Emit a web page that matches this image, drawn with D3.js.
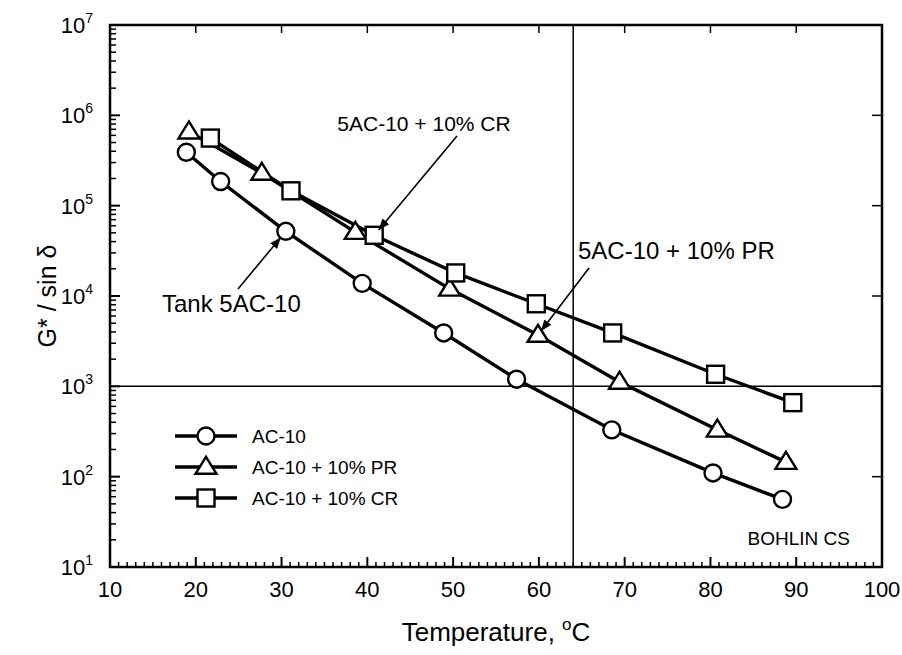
<!DOCTYPE html>
<html>
<head>
<meta charset="utf-8">
<script src="https://cdn.jsdelivr.net/npm/d3@7"></script>
<style>
  html, body { margin: 0; padding: 0; background: #fff; }
  svg { display: block; font-family: "Liberation Sans", Arial, sans-serif; }
</style>
</head>
<body>
<svg id="chart" width="902" height="655"></svg>
<script>
// ---------------- data ----------------
const seriesNames = ["AC-10", "AC-10 + 10% PR", "AC-10 + 10% CR"];
const tempAC = [18.9, 22.9, 30.5, 39.4, 48.9, 57.4, 68.5, 80.3, 88.4];
const valAC  = [3.9e5, 1.85e5, 5.2e4, 1.38e4, 3.9e3, 1.2e3, 330, 110, 56];
const tempPR = [19.2, 27.7, 38.6, 49.6, 59.9, 69.4, 80.8, 88.8];
const valPR  = [6.6e5, 2.3e5, 5.1e4, 1.2e4, 3.7e3, 1.12e3, 330, 145];
const tempCR = [21.7, 31.1, 40.8, 50.3, 59.7, 68.6, 80.6, 89.6];
const valCR  = [5.6e5, 1.46e5, 4.7e4, 1.8e4, 8.2e3, 3.9e3, 1.36e3, 660];
const xTicks = [10, 20, 30, 40, 50, 60, 70, 80, 90, 100];
const yExponents = [1, 2, 3, 4, 5, 6, 7];
const refTemperature = 64;
const refValue = 1000;
const annotationTexts = ["5AC-10 + 10% CR", "5AC-10 + 10% PR", "Tank 5AC-10"];
const instrumentText = "BOHLIN CS";

// ---------------- layout ----------------
const svg = d3.select("#chart");
const L = 110, R = 882, T = 25, B = 567;
const x = d3.scaleLinear().domain([10, 100]).range([L, R]);
const y = d3.scaleLog().domain([10, 1e7]).range([B, T]);

const series = [
  { name: seriesNames[0], sym: "circle",   pts: tempAC.map((t, i) => [t, valAC[i]]) },
  { name: seriesNames[1], sym: "triangle", pts: tempPR.map((t, i) => [t, valPR[i]]) },
  { name: seriesNames[2], sym: "square",   pts: tempCR.map((t, i) => [t, valCR[i]]) }
];

function drawMarker(g, sym, cx, cy) {
  if (sym === "circle") {
    g.append("circle").attr("cx", cx).attr("cy", cy).attr("r", 8.5)
      .attr("fill", "#fff").attr("stroke", "#000").attr("stroke-width", 2.4);
  } else if (sym === "square") {
    g.append("rect").attr("x", cx - 8.5).attr("y", cy - 8.5).attr("width", 17).attr("height", 17)
      .attr("fill", "#fff").attr("stroke", "#000").attr("stroke-width", 2.4);
  } else {
    const w = 21, h = 17;
    g.append("path")
      .attr("d", `M${cx},${cy - h * 0.6}L${cx + w / 2},${cy + h * 0.4}L${cx - w / 2},${cy + h * 0.4}Z`)
      .attr("fill", "#fff").attr("stroke", "#000").attr("stroke-width", 2.4)
      .attr("stroke-linejoin", "miter");
  }
}

// ---------------- reference lines ----------------
svg.append("line").attr("x1", L).attr("x2", R).attr("y1", y(refValue)).attr("y2", y(refValue))
  .attr("stroke", "#000").attr("stroke-width", 1.5);
svg.append("line").attr("x1", x(refTemperature)).attr("x2", x(refTemperature)).attr("y1", T).attr("y2", B)
  .attr("stroke", "#000").attr("stroke-width", 1.5);

// ---------------- axes ----------------
const axisG = svg.append("g");
const minorX = d3.range(10, 101, 1);
minorX.forEach(v => {
  const major = v % 10 === 0;
  axisG.append("line").attr("x1", x(v)).attr("x2", x(v))
    .attr("y1", B).attr("y2", B - (major ? 10 : 5))
    .attr("stroke", "#000").attr("stroke-width", major ? 2 : 1.5);
});
xTicks.forEach(v => {
  axisG.append("line").attr("x1", x(v)).attr("x2", x(v)).attr("y1", T).attr("y2", T + 8)
    .attr("stroke", "#000").attr("stroke-width", 1.5);
});
yExponents.forEach(e => {
  const v = Math.pow(10, e);
  axisG.append("line").attr("x1", L).attr("x2", L + 10).attr("y1", y(v)).attr("y2", y(v))
    .attr("stroke", "#000").attr("stroke-width", 2);
  axisG.append("line").attr("x1", R).attr("x2", R - 10).attr("y1", y(v)).attr("y2", y(v))
    .attr("stroke", "#000").attr("stroke-width", 1.5);
  if (e < 7) {
    for (let m = 2; m <= 9; m++) {
      const mv = m * v;
      axisG.append("line").attr("x1", L).attr("x2", L + 6).attr("y1", y(mv)).attr("y2", y(mv))
        .attr("stroke", "#000").attr("stroke-width", 1.5);
    }
  }
});
svg.append("rect").attr("x", L).attr("y", T).attr("width", R - L).attr("height", B - T)
  .attr("fill", "none").attr("stroke", "#000").attr("stroke-width", 2.5);

xTicks.forEach(v => {
  svg.append("text").attr("x", x(v)).attr("y", B + 30).attr("text-anchor", "middle")
    .attr("font-size", 22).attr("fill", "#000").text(v);
});
yExponents.forEach(e => {
  const t = svg.append("text").attr("x", 93).attr("y", y(Math.pow(10, e)) + 8)
    .attr("text-anchor", "end").attr("font-size", 22).attr("fill", "#000");
  t.append("tspan").text("10");
  t.append("tspan").attr("dy", -10).attr("font-size", 14).text(e);
});

const xt = svg.append("text").attr("x", (L + R) / 2).attr("y", 641).attr("text-anchor", "middle")
  .attr("font-size", 26).attr("fill", "#000");
xt.append("tspan").text("Temperature, ");
xt.append("tspan").attr("dy", -11).attr("font-size", 17).text("o");
xt.append("tspan").attr("dy", 11).text("C");

svg.append("text").attr("transform", `translate(56,${(T + B) / 2}) rotate(-90)`)
  .attr("text-anchor", "middle").attr("font-size", 25).attr("fill", "#000")
  .text("G* / sin \u03B4");

// ---------------- series ----------------
const lineGen = d3.line().x(d => x(d[0])).y(d => y(d[1]));
const dataG = svg.append("g");
series.forEach(s => {
  dataG.append("path").attr("d", lineGen(s.pts)).attr("fill", "none")
    .attr("stroke", "#000").attr("stroke-width", 3.4);
});
series.forEach(s => {
  s.pts.forEach(p => drawMarker(dataG, s.sym, x(p[0]), y(p[1])));
});

// ---------------- annotations ----------------
svg.append("defs").append("marker").attr("id", "ah").attr("viewBox", "0 0 10 10")
  .attr("refX", 10).attr("refY", 5).attr("markerWidth", 7).attr("markerHeight", 7)
  .attr("orient", "auto").append("path").attr("d", "M0,1L10,5L0,9Z").attr("fill", "#000");

function arrowTo(x1, y1, target, off) {
  const tx = x(target[0]), ty = y(target[1]);
  const dx = x1 - tx, dy = y1 - ty, len = Math.hypot(dx, dy);
  svg.append("line").attr("x1", x1).attr("y1", y1)
    .attr("x2", tx + dx / len * off).attr("y2", ty + dy / len * off)
    .attr("stroke", "#000").attr("stroke-width", 1.6).attr("marker-end", "url(#ah)");
}
svg.append("text").attr("x", 424).attr("y", 131).attr("text-anchor", "middle")
  .attr("font-size", 21).attr("fill", "#000").text(annotationTexts[0]);
arrowTo(457, 136, series[2].pts[2], 7);
svg.append("text").attr("x", 578).attr("y", 259)
  .attr("font-size", 24).attr("fill", "#000").text(annotationTexts[1]);
arrowTo(589, 268, series[1].pts[4], 5);
svg.append("text").attr("x", 162).attr("y", 312)
  .attr("font-size", 24).attr("fill", "#000").text(annotationTexts[2]);
arrowTo(238, 289, series[0].pts[2], 8);

svg.append("text").attr("x", 850).attr("y", 545).attr("text-anchor", "end")
  .attr("font-size", 19).attr("fill", "#000").text(instrumentText);

// ---------------- legend ----------------
const legY = [436, 467, 498];
series.forEach((s, i) => {
  const g = svg.append("g");
  g.append("line").attr("x1", 175).attr("x2", 237).attr("y1", legY[i]).attr("y2", legY[i])
    .attr("stroke", "#000").attr("stroke-width", 3.4);
  drawMarker(g, s.sym, 206, legY[i]);
  g.append("text").attr("x", 252).attr("y", legY[i] + 7).attr("font-size", 19)
    .attr("fill", "#000").text(s.name);
});
</script>
</body>
</html>
